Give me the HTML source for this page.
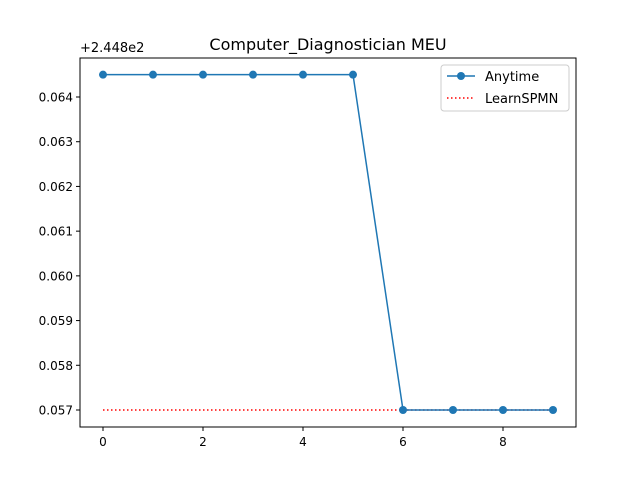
<!DOCTYPE html>
<html><head><meta charset="utf-8"><style>
body{margin:0;background:#fff}
svg text{font-family:"DejaVu Sans","Liberation Sans",sans-serif;fill:#000}
</style></head><body>
<svg id="c" width="640" height="480" xmlns="http://www.w3.org/2000/svg">
<rect width="640" height="480" fill="#fff"/>
<text x="328" y="50" font-size="16" text-anchor="middle">Computer_Diagnostician MEU</text>
<text x="80" y="52" font-size="13">+2.448e2</text>
<g id="grid"></g>
<rect x="80" y="58" width="496" height="369" fill="none" stroke="#000" stroke-width="1"/>
<g>
<rect x="441" y="65" width="128" height="46" rx="3" fill="#fff" stroke="#ccc"/>
<line x1="447" y1="76" x2="475" y2="76" stroke="#1f77b4" stroke-width="1.5"/>
<circle cx="461" cy="76" r="4" fill="#1f77b4"/>
<text x="485" y="81" font-size="13">Anytime</text>
<line x1="447" y1="98" x2="475" y2="98" stroke="red" stroke-width="1.5" stroke-dasharray="1.5,2.5"/>
<text x="485" y="103" font-size="13">LearnSPMN</text>
</g>
</svg>
<script>
const xs=[0,1,2,3,4,5,6,7,8,9];
const anytime=[0.0645,0.0645,0.0645,0.0645,0.0645,0.0645,0.057,0.057,0.057,0.057];
const learnspmn=[0.057,0.057,0.057,0.057,0.057,0.057,0.057,0.057,0.057,0.057];
const xTicks=[0,2,4,6,8];
const yTicks=[0.057,0.058,0.059,0.060,0.061,0.062,0.063,0.064];
const X=v=>103+v*50;
const Y=v=>410-(v-0.057)*44714;
const svg=document.getElementById('c'),g=document.getElementById('grid'),NS='http://www.w3.org/2000/svg';
function mk(t,a,p){const e=document.createElementNS(NS,t);for(const k in a)e.setAttribute(k,a[k]);(p||svg).appendChild(e);return e;}
xTicks.forEach(t=>{
 const l=mk('line',{x1:X(t),x2:X(t),y1:427,y2:431,stroke:'#000'},g);
 
 
 const tx=mk('text',{x:X(t),y:446,'font-size':12,'text-anchor':'middle'},g);tx.textContent=t;
 
 
});
yTicks.forEach(t=>{
 const l=mk('line',{x1:76,x2:80,y1:Y(t),y2:Y(t),stroke:'#000'},g);
 
 
 const tx=mk('text',{x:73,y:Y(t)+4.5,'font-size':12,'text-anchor':'end'},g);tx.textContent=t.toFixed(3);
 
 
});
const lp=mk('polyline',{points:xs.map((x,i)=>X(x)+','+Y(learnspmn[i])).join(' '),fill:'none',stroke:'red','stroke-width':1.5,'stroke-dasharray':'1.5,2.5'});


const ap=mk('polyline',{points:xs.map((x,i)=>X(x)+','+Y(anytime[i])).join(' '),fill:'none',stroke:'#1f77b4','stroke-width':1.5});


xs.forEach((x,i)=>{
 const c=mk('circle',{cx:X(x),cy:Y(anytime[i]),r:4,fill:'#1f77b4'});
 
 
});
</script>
</body></html>
